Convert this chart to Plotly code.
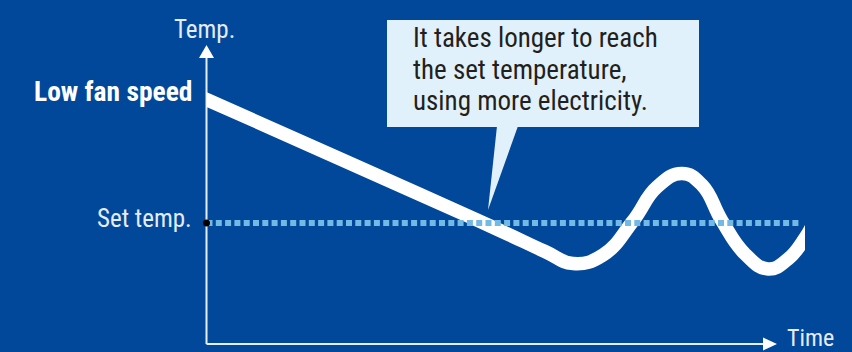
import plotly.graph_objects as go

# ---------------- data (schematic units: time 0..100, temperature 0..100) ----------------
curve_time = [-2.0, 0.0, 37.49, 51.54, 59.44, 64.35, 69.62, 74.89, 79.10, 83.49, 87.01,
              90.52, 94.56, 98.60, 102.11, 105.09, 106.32]
curve_temp = [83.75, 82.05, 50.17, 38.09, 31.05, 27.01, 29.87, 41.28, 52.68, 57.21, 53.36,
              41.28, 30.20, 25.17, 28.52, 35.57, 39.60]
set_temp_value = 40.6
set_line_time = [0.0, 104.2]

axis_label_y = "Temp."
axis_label_x = "Time"
curve_label = "Low fan speed"
set_label = "Set temp."
callout_lines = ["It takes longer to reach", "the set temperature,", "using more electricity."]

# ---------------- layout constants ----------------
W, H = 852, 352
BG = "#01479A"
PX0, PY0 = 206.5, 344.0        # origin in pixels
PX_PER_T, PY_PER_T = 5.695, 2.98
CLIP_RIGHT = 805.0
FONT = "Liberation Sans Narrow, Roboto Condensed, Arial Narrow, Liberation Sans, sans-serif"
TXT_LIGHT = "#E4ECF6"
CALLOUT_FILL = "#E1F1FB"

fig = go.Figure()

# white temperature curve (on data axes x2/y2)
fig.add_trace(go.Scatter(
    x=curve_time, y=curve_temp, xaxis="x2", yaxis="y2", mode="lines",
    line=dict(color="white", width=13.5, shape="spline", smoothing=1.3),
    hoverinfo="skip", showlegend=False))

# dotted set-temperature line
fig.add_trace(go.Scatter(
    x=set_line_time, y=[set_temp_value] * len(set_line_time), xaxis="x2", yaxis="y2",
    mode="lines", line=dict(color="#72B9E6", width=6, dash="6px,3.3px"),
    hoverinfo="skip", showlegend=False))

# black dot at the axis
fig.add_trace(go.Scatter(
    x=[set_line_time[0]], y=[set_temp_value], xaxis="x2", yaxis="y2", mode="markers",
    marker=dict(color="black", size=7), cliponaxis=False,
    hoverinfo="skip", showlegend=False))

shapes = [
    # y axis
    dict(type="line", xref="x", yref="y", x0=PX0, x1=PX0, y0=PY0, y1=56,
         line=dict(color="#E6EEF8", width=2), layer="below"),
    dict(type="path", xref="x", yref="y", path=f"M {PX0-7.5},58 L {PX0+7.5},58 L {PX0},45 Z",
         fillcolor="white", line=dict(width=0), layer="below"),
    # x axis
    dict(type="line", xref="x", yref="y", x0=PX0, x1=765, y0=PY0, y1=PY0,
         line=dict(color="#E6EEF8", width=2), layer="below"),
    dict(type="path", xref="x", yref="y", path=f"M 763,{PY0-6.5} L 763,{PY0+6.5} L 777,{PY0} Z",
         fillcolor="white", line=dict(width=0), layer="below"),
    # callout box and pointer
    dict(type="rect", xref="x", yref="y", x0=387, x1=699, y0=20, y1=127,
         fillcolor=CALLOUT_FILL, line=dict(width=0), layer="above"),
    dict(type="path", xref="x", yref="y", path="M 497,126 L 518,126 L 488,210 Z",
         fillcolor=CALLOUT_FILL, line=dict(width=0), layer="above"),
]

annotations = [
    dict(text=axis_label_y, x=204, y=29, xref="x", yref="y", showarrow=False,
         xanchor="center", yanchor="middle", font=dict(family=FONT, size=25, color=TXT_LIGHT)),
    dict(text=f"<b>{curve_label}</b>", x=195, y=91, xref="x", yref="y", showarrow=False,
         xanchor="right", yanchor="middle", font=dict(family=FONT, size=27.5, color="white")),
    dict(text=set_label, x=194, y=218, xref="x", yref="y", showarrow=False,
         xanchor="right", yanchor="middle", font=dict(family=FONT, size=25, color=TXT_LIGHT)),
    dict(text=axis_label_x, x=785, y=338, xref="x", yref="y", showarrow=False,
         xanchor="left", yanchor="middle", font=dict(family=FONT, size=24, color=TXT_LIGHT)),
]
for i, (line, yc) in enumerate(zip(callout_lines, [38, 69.5, 101])):
    annotations.append(dict(text=line, x=411, y=yc, xref="x", yref="y", showarrow=False,
                            xanchor="left", yanchor="middle",
                            font=dict(family=FONT, size=27, color="#231F20")))

fig.update_layout(
    width=W, height=H, margin=dict(l=0, r=0, t=0, b=0),
    paper_bgcolor=BG, plot_bgcolor="rgba(0,0,0,0)",
    xaxis=dict(range=[0, W], domain=[0, 1], visible=False, fixedrange=True),
    yaxis=dict(range=[H, 0], domain=[0, 1], visible=False, fixedrange=True),
    xaxis2=dict(range=[0, (CLIP_RIGHT - PX0) / PX_PER_T], domain=[PX0 / W, CLIP_RIGHT / W],
                anchor="y2", visible=False, fixedrange=True),
    yaxis2=dict(range=[(PY0 - H) / PY_PER_T, PY0 / PY_PER_T], domain=[0, 1],
                anchor="x2", visible=False, fixedrange=True),
    shapes=shapes, annotations=annotations, showlegend=False,
)

fig.write_html("out.html", config={"displayModeBar": False, "staticPlot": True},
               post_script="document.body.style.margin='0';document.body.style.overflow='hidden';")
